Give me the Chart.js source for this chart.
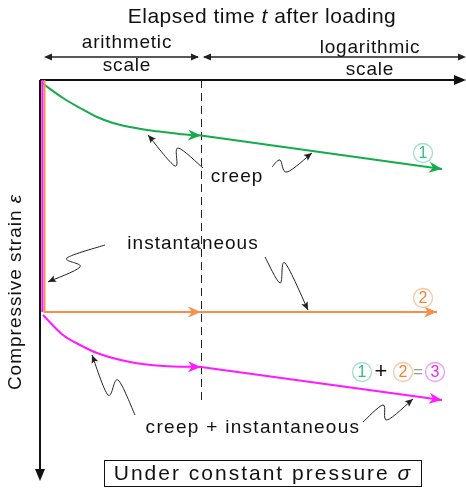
<!DOCTYPE html>
<html>
<head>
<meta charset="utf-8">
<script src="https://cdn.jsdelivr.net/npm/chart.js@4.4.1/dist/chart.umd.min.js"></script>
<style>
  html, body { margin: 0; padding: 0; background: #fff; }
  canvas { display: block; }
</style>
</head>
<body>
<canvas id="strainChart" width="466" height="488"></canvas>
<script>
// time axis: arithmetic up to the dashed break, logarithmic after it
const scaleBreak = 1.61;

// creep only (curve 1)
const creepTime = [0.02, 0.23, 0.40, 0.57, 0.73, 0.90, 1.07, 1.23, 1.50, 1.61];
const creepStrain = [0.03, 0.18, 0.28, 0.37, 0.43, 0.47, 0.50, 0.52, 0.55, 0.555];
const creepLogTime = [1.61, 4.02];
const creepLogStrain = [0.555, 0.89];

// instantaneous only (curve 2)
const instTime = [0.045, 0.045, 1.61];
const instStrain = [0, 2.32, 2.32];
const instLogTime = [1.61, 3.97];
const instLogStrain = [2.32, 2.32];

// creep + instantaneous (curve 3)
const stepTime = [0.023, 0.023];
const stepStrain = [0, 2.32];
const totalTime = [0.03, 0.23, 0.40, 0.57, 0.90, 1.23, 1.61];
const totalStrain = [2.35, 2.55, 2.65, 2.73, 2.82, 2.86, 2.87];
const totalLogTime = [1.61, 4.02];
const totalLogStrain = [2.87, 3.20];

const green = "#12ad4a";
const orange = "#f68f4a";
const magenta = "#ff1aff";
const FONT = '"Liberation Sans", Arial, sans-serif';

function pts(xs, ys) {
  return xs.map((x, i) => ({ x: x, y: ys[i] }));
}

function line(xs, ys, color, curved, arrow) {
  return {
    data: pts(xs, ys),
    borderColor: color,
    borderWidth: 2,
    pointRadius: 0,
    tension: 0,
    cubicInterpolationMode: curved ? "monotone" : "default",
    fill: false,
    arrowEnd: arrow
  };
}

function drawHead(ctx, ax, ay, bx, by, color, len, half, notch) {
  const ang = Math.atan2(by - ay, bx - ax);
  ctx.save();
  ctx.translate(bx, by);
  ctx.rotate(ang);
  ctx.fillStyle = color;
  ctx.beginPath();
  ctx.moveTo(0, 0);
  ctx.lineTo(-len, -half);
  ctx.lineTo(-len + notch, 0);
  ctx.lineTo(-len, half);
  ctx.closePath();
  ctx.fill();
  ctx.restore();
}

function richText(ctx, parts, x, y, size, align, spacing) {
  ctx.letterSpacing = (spacing || 0) + "px";
  const widths = parts.map(p => {
    ctx.font = (p[1] ? "italic " : "") + size + "px " + FONT;
    return ctx.measureText(p[0]).width;
  });
  const total = widths.reduce((a, b) => a + b, 0);
  let cx = align === "center" ? x - total / 2 : x;
  ctx.textAlign = "left";
  ctx.textBaseline = "middle";
  parts.forEach((p, k) => {
    ctx.font = (p[1] ? "italic " : "") + size + "px " + FONT;
    ctx.fillText(p[0], cx, y);
    cx += widths[k];
  });
  ctx.letterSpacing = "0px";
}

function squiggle(ctx, p) {
  ctx.beginPath();
  ctx.moveTo(p[0].x, p[0].y);
  for (let i = 0; i < p.length - 1; i++) {
    const p0 = p[i - 1] || p[i], p1 = p[i], p2 = p[i + 1], p3 = p[i + 2] || p2;
    ctx.bezierCurveTo(
      p1.x + (p2.x - p0.x) / 6, p1.y + (p2.y - p0.y) / 6,
      p2.x - (p3.x - p1.x) / 6, p2.y - (p3.y - p1.y) / 6,
      p2.x, p2.y);
  }
  ctx.stroke();
  const a = p[p.length - 2], b = p[p.length - 1];
  drawHead(ctx, a.x, a.y, b.x, b.y, ctx.strokeStyle, 8, 3.5, 1.5);
}

function circled(ctx, x, y, digit, color, ring) {
  ctx.strokeStyle = ring;
  ctx.lineWidth = 1.3;
  ctx.beginPath();
  ctx.arc(x, y, 9.5, 0, Math.PI * 2);
  ctx.stroke();
  ctx.fillStyle = color;
  ctx.font = "16px " + FONT;
  ctx.textAlign = "center";
  ctx.textBaseline = "middle";
  ctx.fillText(digit, x, y + 1);
}

// callout arrows, in chart units (start ... tip)
const callouts = [
  [[1.63, 0.88], [1.38, 0.68], [1.35, 0.86], [1.08, 0.55]],
  [[2.32, 0.87], [2.40, 0.80], [2.47, 0.92], [2.72, 0.73]],
  [[0.65, 1.65], [0.27, 1.78], [0.40, 1.87], [0.08, 2.02]],
  [[2.25, 1.77], [2.40, 2.03], [2.45, 1.83], [2.68, 2.30]],
  [[0.95, 3.35], [0.78, 3.00], [0.68, 3.15], [0.52, 2.75]],
  [[3.23, 3.42], [3.43, 3.25], [3.47, 3.40], [3.73, 3.19]]
];

const arrowHeads = {
  id: "arrowHeads",
  afterDatasetsDraw(chart) {
    const ctx = chart.ctx;
    chart.data.datasets.forEach((ds, i) => {
      if (!ds.arrowEnd) return;
      const d = chart.getDatasetMeta(i).data;
      const a = d[d.length - 2], b = d[d.length - 1];
      drawHead(ctx, a.x, a.y, b.x, b.y, ds.borderColor, 13, 5.5, 4);
    });
  }
};

const frame = {
  id: "frame",
  beforeDatasetsDraw(chart) {
    const ctx = chart.ctx;
    const sx = chart.scales.x, sy = chart.scales.y;
    const ox = sx.getPixelForValue(0), oy = sy.getPixelForValue(0);
    ctx.save();
    // dashed break between the two time scales
    ctx.strokeStyle = "#222";
    ctx.lineWidth = 1;
    ctx.setLineDash([8, 5]);
    ctx.beginPath();
    const bx = Math.round(sx.getPixelForValue(scaleBreak)) + 0.5;
    ctx.moveTo(bx, oy);
    ctx.lineTo(bx, sy.getPixelForValue(3.22));
    ctx.stroke();
    ctx.setLineDash([]);
    // axes
    ctx.strokeStyle = "#111";
    ctx.lineWidth = 2;
    ctx.beginPath();
    ctx.moveTo(ox, oy);
    ctx.lineTo(456, oy);
    ctx.moveTo(ox, oy);
    ctx.lineTo(ox, 470);
    ctx.stroke();
    drawHead(ctx, ox, oy, 466, oy, "#111", 12, 5, 0);
    drawHead(ctx, ox, oy, ox, 481, "#111", 12, 5, 0);
    ctx.restore();
  },
  afterDraw(chart) {
    const ctx = chart.ctx;
    const sx = chart.scales.x, sy = chart.scales.y;
    const P = (u, v) => ({ x: sx.getPixelForValue(u), y: sy.getPixelForValue(v) });
    const bx = sx.getPixelForValue(scaleBreak);
    ctx.save();
    ctx.fillStyle = "#111";
    richText(ctx, [["Elapsed time ", false], ["t", true], [" after loading", false]], 262, 17, 21, "center", 0.5);

    // scale ranges
    ctx.strokeStyle = "#222";
    ctx.lineWidth = 1.5;
    ctx.beginPath();
    ctx.moveTo(46, 57); ctx.lineTo(bx - 3, 57);
    ctx.moveTo(bx + 3, 57); ctx.lineTo(463, 57);
    ctx.stroke();
    drawHead(ctx, 60, 57, 44, 57, "#222", 8, 3.5, 0);
    drawHead(ctx, 180, 57, bx - 2, 57, "#222", 8, 3.5, 0);
    drawHead(ctx, 260, 57, bx + 2, 57, "#222", 8, 3.5, 0);
    drawHead(ctx, 400, 57, 466, 57, "#222", 8, 3.5, 0);
    ctx.fillStyle = "#111";
    richText(ctx, [["arithmetic", false]], 127, 43, 19, "center", 0.8);
    richText(ctx, [["scale", false]], 127, 66, 19, "center", 0.8);
    richText(ctx, [["logarithmic", false]], 370, 48, 19, "center", 0.8);
    richText(ctx, [["scale", false]], 370, 70, 19, "center", 0.8);

    // y axis title
    ctx.save();
    ctx.translate(16, 292);
    ctx.rotate(-Math.PI / 2);
    richText(ctx, [["Compressive strain ", false], ["\u03b5", true]], 0, 0, 19, "center", 1);
    ctx.restore();

    // callouts
    ctx.strokeStyle = "#222";
    ctx.lineWidth = 1;
    callouts.forEach(c => squiggle(ctx, c.map(q => P(q[0], q[1]))));

    ctx.fillStyle = "#111";
    let q = P(1.97, 0.97);
    richText(ctx, [["creep", false]], q.x, q.y, 19, "center", 1);
    q = P(1.53, 1.64);
    richText(ctx, [["instantaneous", false]], q.x, q.y, 19, "center", 1);
    q = P(2.13, 3.48);
    richText(ctx, [["creep + instantaneous", false]], q.x, q.y, 19, "center", 1.3);

    // curve numbers
    q = P(3.83, 0.73);
    circled(ctx, q.x, q.y, "1", "#2bbf8a", "#9fe0c6");
    q = P(3.83, 2.18);
    circled(ctx, q.x, q.y, "2", "#f0823a", "#f7c7a4");
    q = P(3.22, 2.92);
    circled(ctx, q.x, q.y, "1", "#2bbf8a", "#9fe0c6");
    ctx.fillStyle = "#111";
    ctx.font = "22px " + FONT;
    ctx.textAlign = "center";
    ctx.fillText("+", P(3.41, 0).x, q.y);
    circled(ctx, P(3.63, 0).x, q.y, "2", "#f0823a", "#f7c7a4");
    ctx.fillStyle = "#9a9a9a";
    ctx.font = "17px " + FONT;
    ctx.textAlign = "center";
    ctx.fillText("=", P(3.78, 0).x, q.y);
    circled(ctx, P(3.95, 0).x, q.y, "3", "#e62ee6", "#f49af4");

    // loading condition
    ctx.strokeStyle = "#111";
    ctx.lineWidth = 1;
    ctx.strokeRect(104.5, 460.5, 317, 26);
    ctx.fillStyle = "#111";
    richText(ctx, [["Under constant pressure ", false], ["\u03c3", true]], 263, 474, 21, "center", 2);
    ctx.restore();
  }
};

new Chart(document.getElementById("strainChart"), {
  type: "line",
  data: {
    datasets: [
      line(stepTime, stepStrain, magenta, false, false),
      line(instTime, instStrain, orange, false, true),
      line(instLogTime, instLogStrain, orange, false, true),
      line(creepTime, creepStrain, green, true, true),
      line(creepLogTime, creepLogStrain, green, false, true),
      line(totalTime, totalStrain, magenta, true, true),
      line(totalLogTime, totalLogStrain, magenta, false, true)
    ]
  },
  options: {
    responsive: false,
    animation: false,
    layout: { padding: { left: 40, top: 80, right: 0, bottom: 0 } },
    scales: {
      x: { type: "linear", min: 0, max: 4.26, display: false },
      y: { type: "linear", min: 0, max: 4.08, reverse: true, display: false }
    },
    plugins: { legend: { display: false }, tooltip: { enabled: false } }
  },
  plugins: [frame, arrowHeads]
});
</script>
</body>
</html>
